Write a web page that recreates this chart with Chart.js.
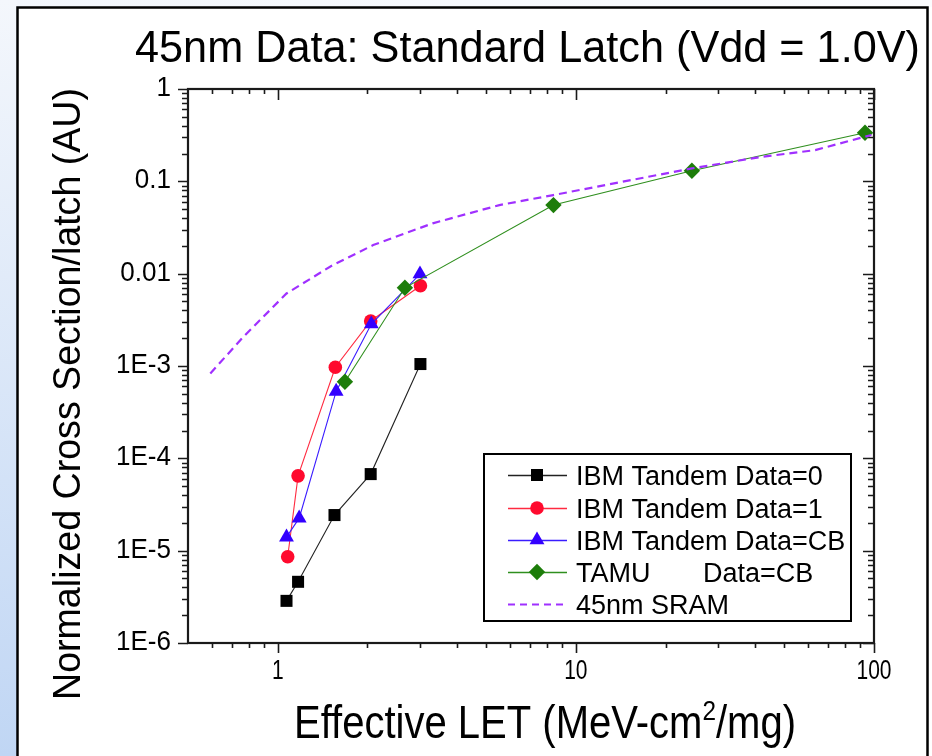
<!DOCTYPE html>
<html><head><meta charset="utf-8">
<script src="https://cdn.jsdelivr.net/npm/chart.js@4/dist/chart.umd.min.js"></script>
<style>html,body{margin:0;padding:0;background:#fff;overflow:hidden}canvas{display:block}</style>
</head><body>
<canvas id="c" width="932" height="756"></canvas>
<script>
// ---------- data ----------
const chartTitle = '45nm Data: Standard Latch (Vdd = 1.0V)';
const xAxisTitleMain = 'Effective LET (MeV-cm';
const xAxisTitleSup = '2';
const xAxisTitleEnd = '/mg)';
const yAxisTitle = 'Normalized Cross Section/latch (AU)';

const seriesNames = ['IBM Tandem Data=0', 'IBM Tandem Data=1', 'IBM Tandem Data=CB', 'TAMU       Data=CB', '45nm SRAM'];

const letData0 = [1.07, 1.17, 1.55, 2.05, 3.01];
const xsData0  = [2.86e-6, 4.6e-6, 2.43e-5, 6.75e-5, 1.05e-3];

const letData1 = [1.08, 1.17, 1.56, 2.05, 3.01];
const xsData1  = [8.6e-6, 6.46e-5, 9.7e-4, 3.07e-3, 7.4e-3];

const letDataCB = [1.07, 1.18, 1.57, 2.06, 3.0];
const xsDataCB  = [1.4e-5, 2.25e-5, 5.3e-4, 2.85e-3, 0.0099];

const letTAMU = [1.68, 2.67, 8.41, 24.5, 93.3];
const xsTAMU  = [6.75e-4, 7.03e-3, 0.0553, 0.130, 0.336];

const letSRAM = [0.594, 0.767, 1.07, 1.53, 2.09, 3.31, 5.54, 8.4, 24.5, 41, 63.5, 98];
const xsSRAM  = [8.3e-4, 2.07e-3, 6.1e-3, 0.0124, 0.0204, 0.0351, 0.0553, 0.071, 0.138, 0.182, 0.218, 0.318];

const xTickValues = [1, 10, 100];
const xTickLabels = ['1', '10', '100'];
const yTickValues = [1, 0.1, 0.01, 1e-3, 1e-4, 1e-5, 1e-6];
const yTickLabels = ['1', '0.1', '0.01', '1E-3', '1E-4', '1E-5', '1E-6'];
const xMin = 0.5, xMax = 100, yMin = 1e-6, yMax = 1;

// ---------- styles ----------
const FONT = "'Liberation Sans', Arial, Helvetica, sans-serif";
const styles = [
  {line:'#222222', fill:'#000000', pt:'rect', r:8.5},
  {line:'#ff2a40', fill:'#ff0a2e', pt:'circle', r:6.8},
  {line:'#3a1cff', fill:'#3300ff', pt:'triangle', r:8.6},
  {line:'#2f8f1e', fill:'#1d7d0a', pt:'rectRot', r:8.2},
  {line:'#a030ff', fill:'#a030ff', pt:false, r:0, dash:[8,5], width:2.2}
];
const allX = [letData0, letData1, letDataCB, letTAMU, letSRAM];
const allY = [xsData0, xsData1, xsDataCB, xsTAMU, xsSRAM];

const datasets = allX.map((xs, i) => ({
  label: seriesNames[i],
  data: xs.map((x, k) => ({x: x, y: allY[i][k]})),
  showLine: true,
  borderColor: styles[i].line,
  borderWidth: styles[i].width || 1.1,
  borderDash: styles[i].dash || [],
  backgroundColor: styles[i].fill,
  pointBackgroundColor: styles[i].fill,
  pointBorderColor: styles[i].fill,
  pointBorderWidth: 0,
  pointStyle: styles[i].pt,
  pointRadius: styles[i].r,
  pointHoverRadius: styles[i].r,
  tension: 0,
  clip: false,
  order: 10 - i
}));

function drawMarker(ctx, st, x, y) {
  if (!st.pt) return;
  ctx.save();
  ctx.fillStyle = st.fill;
  ctx.beginPath();
  const r = st.r;
  if (st.pt === 'rect') { const s = r * Math.SQRT1_2; ctx.rect(x - s, y - s, 2 * s, 2 * s); }
  else if (st.pt === 'circle') { ctx.arc(x, y, r, 0, Math.PI * 2); }
  else if (st.pt === 'triangle') {
    ctx.moveTo(x, y - r);
    ctx.lineTo(x + r * Math.sin(Math.PI / 3), y + r / 2);
    ctx.lineTo(x - r * Math.sin(Math.PI / 3), y + r / 2);
    ctx.closePath();
  } else if (st.pt === 'rectRot') {
    ctx.moveTo(x, y - r); ctx.lineTo(x + r, y); ctx.lineTo(x, y + r); ctx.lineTo(x - r, y); ctx.closePath();
  }
  ctx.fill();
  ctx.restore();
}

function fitText(ctx, text, x, y, size, targetW, align) {
  ctx.font = size + 'px ' + FONT;
  const w = ctx.measureText(text).width;
  const s = targetW ? targetW / w : 1;
  ctx.save();
  ctx.translate(x, y);
  ctx.scale(s, 1);
  ctx.textAlign = align || 'center';
  ctx.fillText(text, 0, 0);
  ctx.restore();
  return w * s;
}

const decoPlugin = {
  id: 'deco',
  beforeDraw(chart) {
    const ctx = chart.ctx;
    ctx.save();
    ctx.fillStyle = '#ffffff';
    ctx.fillRect(0, 0, 932, 756);
    const g = ctx.createLinearGradient(0, 0, 0, 756);
    g.addColorStop(0, '#f4f7fc');
    g.addColorStop(1, '#c0d6f4');
    ctx.fillStyle = g;
    ctx.fillRect(0, 0, 17, 756);
    const g2 = ctx.createLinearGradient(0, 0, 932, 0);
    g2.addColorStop(0, '#f2f6fc');
    g2.addColorStop(1, '#fbfcfe');
    ctx.fillStyle = g2;
    ctx.fillRect(17, 0, 915, 7);
    ctx.strokeStyle = '#000';
    ctx.lineWidth = 2.5;
    ctx.strokeRect(17.5, 7.5, 910, 780);
    ctx.restore();
  },
  beforeDatasetsDraw(chart) {
    const ctx = chart.ctx;
    const {left, right, top, bottom} = chart.chartArea;
    const xs = chart.scales.x, ys = chart.scales.y;
    ctx.save();
    ctx.strokeStyle = '#1a1a1a';
    ctx.lineWidth = 1.6;
    // y ticks
    for (let e = -6; e <= 0; e++) {
      const p = Math.round(ys.getPixelForValue(Math.pow(10, e))) + 0.5;
      ctx.beginPath();
      ctx.moveTo(left - 10, p); ctx.lineTo(left, p);
      ctx.moveTo(right, p); ctx.lineTo(right - 11, p);
      ctx.stroke();
      if (e < 0) {
        for (let m = 2; m <= 9; m++) {
          const q = Math.round(ys.getPixelForValue(m * Math.pow(10, e))) + 0.5;
          ctx.beginPath();
          ctx.moveTo(left - 6, q); ctx.lineTo(left, q);
          ctx.moveTo(right, q); ctx.lineTo(right - 6, q);
          ctx.stroke();
        }
      }
    }
    // x ticks
    const xMinor = [];
    [0.1, 1, 10].forEach(d => { for (let m = 2; m <= 9; m++) { const v = m * d; if (v > xMin && v < xMax) xMinor.push(v); } });
    xMinor.forEach(v => {
      const p = Math.round(xs.getPixelForValue(v)) + 0.5;
      ctx.beginPath();
      ctx.moveTo(p, bottom); ctx.lineTo(p, bottom + 5);
      ctx.moveTo(p, top); ctx.lineTo(p, top + 5);
      ctx.stroke();
    });
    xTickValues.forEach(v => {
      const p = Math.round(xs.getPixelForValue(v)) + 0.5;
      ctx.beginPath();
      ctx.moveTo(p, bottom); ctx.lineTo(p, bottom + 10);
      ctx.moveTo(p, top); ctx.lineTo(p, top + 11);
      ctx.stroke();
    });
    ctx.lineWidth = 2.2;
    ctx.strokeRect(left, top, right - left, bottom - top);
    ctx.restore();
  },
  afterDraw(chart) {
    const ctx = chart.ctx;
    const {left, right, top, bottom} = chart.chartArea;
    const xs = chart.scales.x, ys = chart.scales.y;
    ctx.save();
    ctx.fillStyle = '#000';
    ctx.textBaseline = 'alphabetic';
    // title
    fitText(ctx, chartTitle, 527.5, 62, 45, 785, 'center');
    // y tick labels
    ctx.font = '28px ' + FONT;
    const sy = 0.93;
    yTickValues.forEach((v, i) => {
      const p = ys.getPixelForValue(v);
      ctx.font = '28px ' + FONT;
      const w = ctx.measureText(yTickLabels[i]).width * sy;
      fitText(ctx, yTickLabels[i], left - 17, p + 7, 28, w, 'right');
    });
    // x tick labels
    ctx.font = '27px ' + FONT;
    const sx = 35 / ctx.measureText('100').width;
    xTickValues.forEach((v, i) => {
      const p = xs.getPixelForValue(v);
      ctx.font = '27px ' + FONT;
      const w = ctx.measureText(xTickLabels[i]).width * sx;
      fitText(ctx, xTickLabels[i], p, 679, 27, w, 'center');
    });
    // x axis title
    const fs = 46, sxT = 0.87;
    ctx.font = fs + 'px ' + FONT;
    const w1 = ctx.measureText(xAxisTitleMain).width * sxT;
    ctx.font = Math.round(fs * 0.6) + 'px ' + FONT;
    const w2 = ctx.measureText(xAxisTitleSup).width * sxT;
    ctx.font = fs + 'px ' + FONT;
    const w3 = ctx.measureText(xAxisTitleEnd).width * sxT;
    const total = w1 + w2 + w3;
    let x0 = 545 - total / 2;
    fitText(ctx, xAxisTitleMain, x0, 738, fs, w1, 'left');
    fitText(ctx, xAxisTitleSup, x0 + w1, 738 - 18, Math.round(fs * 0.6), w2, 'left');
    fitText(ctx, xAxisTitleEnd, x0 + w1 + w2, 738, fs, w3, 'left');
    // y axis title
    ctx.save();
    ctx.translate(80, 394);
    ctx.rotate(-Math.PI / 2);
    fitText(ctx, yAxisTitle, 0, 0, 38, 612, 'center');
    ctx.restore();
    // legend
    const lx = 484, ly = 454, lw = 367, lh = 167;
    ctx.fillStyle = '#fff';
    ctx.fillRect(lx, ly, lw, lh);
    ctx.strokeStyle = '#000';
    ctx.lineWidth = 2;
    ctx.strokeRect(lx, ly, lw, lh);
    const rowY = [475, 508, 540, 572, 604];
    seriesNames.forEach((name, i) => {
      const st = styles[i];
      const y = rowY[i];
      ctx.save();
      ctx.strokeStyle = st.line;
      ctx.lineWidth = st.width ? 2 : 1.6;
      if (st.dash) ctx.setLineDash([7, 5]);
      ctx.beginPath();
      ctx.moveTo(508, y + 0.5); ctx.lineTo(567, y + 0.5);
      ctx.stroke();
      ctx.restore();
      drawMarker(ctx, st, 537, y);
      ctx.fillStyle = '#000';
      fitText(ctx, name, 576, y + 9.5, 27, null, 'left');
    });
    ctx.restore();
  }
};

new Chart(document.getElementById('c'), {
  type: 'scatter',
  data: { datasets: datasets },
  options: {
    responsive: false,
    animation: false,
    devicePixelRatio: 1,
    layout: { padding: { left: 188, top: 89, right: 58, bottom: 113 } },
    plugins: { legend: { display: false }, tooltip: { enabled: false }, title: { display: false } },
    scales: {
      x: { type: 'logarithmic', min: xMin, max: xMax, display: false },
      y: { type: 'logarithmic', min: yMin, max: yMax, display: false }
    }
  },
  plugins: [decoPlugin]
});
</script>
</body></html>
